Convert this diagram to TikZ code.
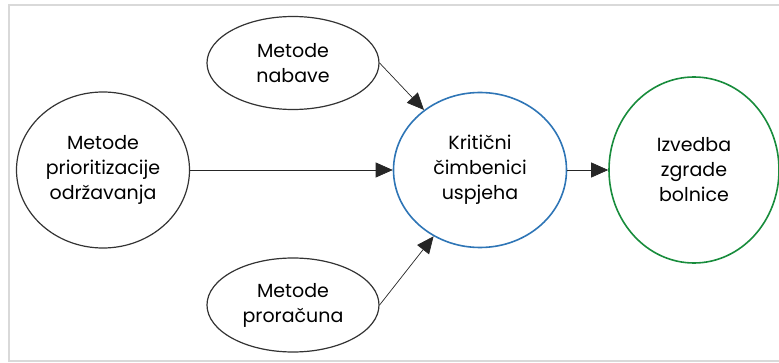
\documentclass[tikz,border=0pt]{standalone}
\usepackage{fontspec}
\setmainfont{Poppins}
\usetikzlibrary{shapes.geometric,arrows.meta}

\definecolor{critblue}{RGB}{46,117,182}
\definecolor{resgreen}{RGB}{24,140,60}
\definecolor{framegray}{RGB}{217,217,217}

\tikzset{
  method/.style={ellipse, draw=black!80, line width=1.2pt, inner sep=0pt, align=center,
    font=\fontsize{19}{25}\selectfont},
  arr/.style={-{Triangle[length=17pt,width=15pt]}, black!85, line width=0.7pt},
}

\begin{document}
\begin{tikzpicture}[x=1pt, y=-1pt]
        \useasboundingbox (0,0) rectangle (779,363);
        \draw[framegray, line width=2.5pt] (779,5) -- (9,5) -- (9,361) -- (779,361);

        \node[method, minimum width=172pt, minimum height=93pt] (nab) at (293,63) {Metode\\nabave};
        \node[method, minimum width=173pt, minimum height=156pt] (prio) at (103,170) {Metode\\prioritizacije\\održavanja};
        \node[method, minimum width=172pt, minimum height=94pt] (pror) at (293,305) {Metode\\proračuna};
        \node[method, draw=critblue, line width=1.6pt, minimum width=173pt, minimum height=155pt] (krit) at (480,170) {Kritični\\čimbenici\\uspjeha};
        \node[method, draw=resgreen, line width=1.6pt, minimum width=170pt, minimum height=186pt] (izv) at (694,170) {Izvedba\\zgrade\\bolnice};

        \draw[arr] (nab.east) -- (krit.133);
        \draw[arr] (prio.east) -- (krit.west);
        \draw[arr] (pror.east) -- (krit.235);
        \draw[arr] (krit.east) -- (izv.west);
    \end{tikzpicture}
\end{document}
